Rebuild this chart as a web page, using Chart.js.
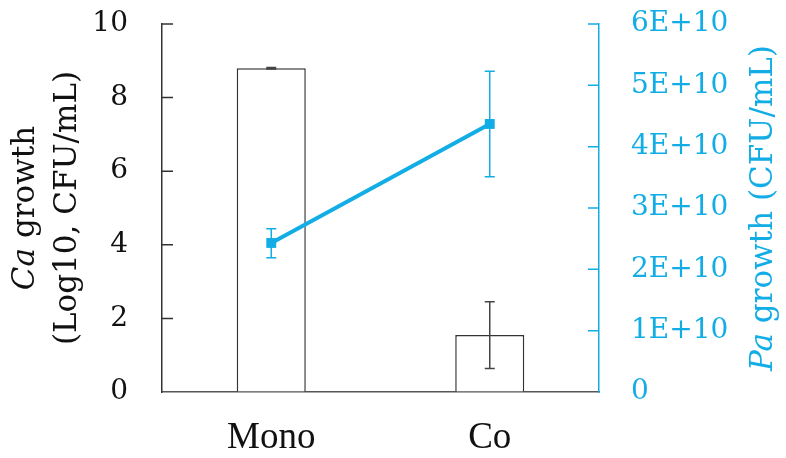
<!DOCTYPE html>
<html>
<head>
<meta charset="utf-8">
<script src="https://cdn.jsdelivr.net/npm/chart.js@4"></script>
<style>
  html, body { margin: 0; padding: 0; background: #fff; }
  #wrap { width: 786px; height: 458px; }
</style>
</head>
<body>
<div id="wrap"><canvas id="growthChart" width="786" height="458"></canvas></div>
<script>
// data
const groups = ["Mono", "Co"];
const caGrowth = [8.8, 1.55];          // left axis, log10 CFU/mL
const caLow = [8.78, 0.64];
const caHigh = [8.82, 2.45];
const paGrowth = [2.43e10, 4.37e10];   // right axis, CFU/mL
const paLow = [2.19e10, 3.51e10];
const paHigh = [2.66e10, 5.23e10];
const leftTicks = [0, 2, 4, 6, 8, 10];
const rightTicks = [0, 1e10, 2e10, 3e10, 4e10, 5e10, 6e10];

const BLUE = "#13ade6";
const DARK = "#333";
const tickFont = { family: "DejaVu Serif", size: 28 };

function fmtRight(v) {
  return v === 0 ? "0" : (v / 1e10) + "E+10";
}

// error bars, inward ticks and mixed-style axis titles
const extras = {
  id: "extras",
  afterDatasetsDraw(chart) {
    const ctx = chart.ctx;
    const x = chart.scales.x, y = chart.scales.y, y2 = chart.scales.y2;
    const area = chart.chartArea;

    function errBar(cx, lo, hi, color, cap) {
      ctx.strokeStyle = color;
      ctx.lineWidth = 1.5;
      ctx.beginPath();
      ctx.moveTo(cx, lo); ctx.lineTo(cx, hi);
      ctx.moveTo(cx - cap, lo); ctx.lineTo(cx + cap, lo);
      ctx.moveTo(cx - cap, hi); ctx.lineTo(cx + cap, hi);
      ctx.stroke();
    }

    ctx.save();
    groups.forEach((g, i) => {
      const cx = x.getPixelForValue(i);
      errBar(cx, y.getPixelForValue(caLow[i]), y.getPixelForValue(caHigh[i]), "#444", 5);
      errBar(cx, y2.getPixelForValue(paLow[i]), y2.getPixelForValue(paHigh[i]), BLUE, 5);
    });

    // inward ticks
    ctx.lineWidth = 1.5;
    ctx.strokeStyle = DARK;
    ctx.beginPath();
    leftTicks.slice(1).forEach(v => {
      const py = y.getPixelForValue(v);
      ctx.moveTo(area.left, py); ctx.lineTo(area.left + 11, py);
    });
    ctx.stroke();
    ctx.strokeStyle = BLUE;
    ctx.beginPath();
    rightTicks.slice(1).forEach(v => {
      const py = y2.getPixelForValue(v);
      ctx.moveTo(area.right, py); ctx.lineTo(area.right - 11, py);
    });
    ctx.stroke();

    // axis titles
    const midY = (area.top + area.bottom) / 2;
    function rotText(px, parts, color) {
      ctx.save();
      ctx.translate(px, midY);
      ctx.rotate(-Math.PI / 2);
      ctx.fillStyle = color;
      ctx.textBaseline = "middle";
      let total = 0;
      parts.forEach(p => { ctx.font = p.f; total += ctx.measureText(p.t).width; });
      let cur = -total / 2;
      parts.forEach(p => {
        ctx.font = p.f;
        ctx.textAlign = "left";
        ctx.fillText(p.t, cur, 0);
        cur += ctx.measureText(p.t).width;
      });
      ctx.restore();
    }
    const reg = "31px 'DejaVu Serif'";
    const ital = "italic 31px 'DejaVu Serif'";
    rotText(26, [{ t: "Ca", f: ital }, { t: " growth", f: reg }], "#111");
    rotText(68, [{ t: "(Log10, CFU/mL)", f: reg }], "#111");
    rotText(764, [{ t: "Pa", f: ital }, { t: " growth (CFU/mL)", f: reg }], BLUE);
    ctx.restore();
  }
};

function noPad(s) {
  s.paddingTop = 0; s.paddingBottom = 0;
}

new Chart(document.getElementById("growthChart"), {
  type: "bar",
  data: {
    labels: groups,
    datasets: [
      {
        type: "line",
        data: paGrowth,
        yAxisID: "y2",
        borderColor: BLUE,
        backgroundColor: BLUE,
        borderWidth: 4,
        pointStyle: "rect",
        pointRadius: 7,
        pointBorderWidth: 0,
        order: 0,
      },
      {
        data: caGrowth,
        yAxisID: "y",
        backgroundColor: "#fff",
        borderColor: DARK,
        borderWidth: 1.5,
        borderSkipped: "bottom",
        categoryPercentage: 1,
        barPercentage: 0.316,
        order: 1,
      },
    ],
  },
  options: {
    responsive: false,
    animation: false,
    layout: { padding: { top: 24, left: 0, right: 0, bottom: 0 } },
    plugins: { legend: { display: false }, tooltip: { enabled: false } },
    scales: {
      x: {
        grid: { display: false, drawTicks: false },
        border: { color: "#555", width: 1.5 },
        ticks: { color: "#111", font: { family: "Liberation Serif", size: 37 }, padding: 24 },
        afterFit(s) { s.height = 66; s.paddingLeft = 0; s.paddingRight = 0; },
      },
      y: {
        position: "left",
        min: 0,
        max: 10,
        afterBuildTicks(s) { s.ticks = leftTicks.map(v => ({ value: v })); },
        grid: { drawOnChartArea: false, drawTicks: false },
        border: { color: DARK, width: 1.5 },
        ticks: { color: "#111", font: tickFont, padding: 34 },
        afterFit(s) { s.width = 162; noPad(s); },
      },
      y2: {
        position: "right",
        min: 0,
        max: 6e10,
        afterBuildTicks(s) { s.ticks = rightTicks.map(v => ({ value: v })); },
        grid: { drawOnChartArea: false, drawTicks: false },
        border: { color: BLUE, width: 1.5 },
        ticks: { color: BLUE, font: tickFont, padding: 32, callback: v => fmtRight(v) },
        afterFit(s) { s.width = 187; noPad(s); },
      },
    },
  },
  plugins: [extras],
});
</script>
</body>
</html>
